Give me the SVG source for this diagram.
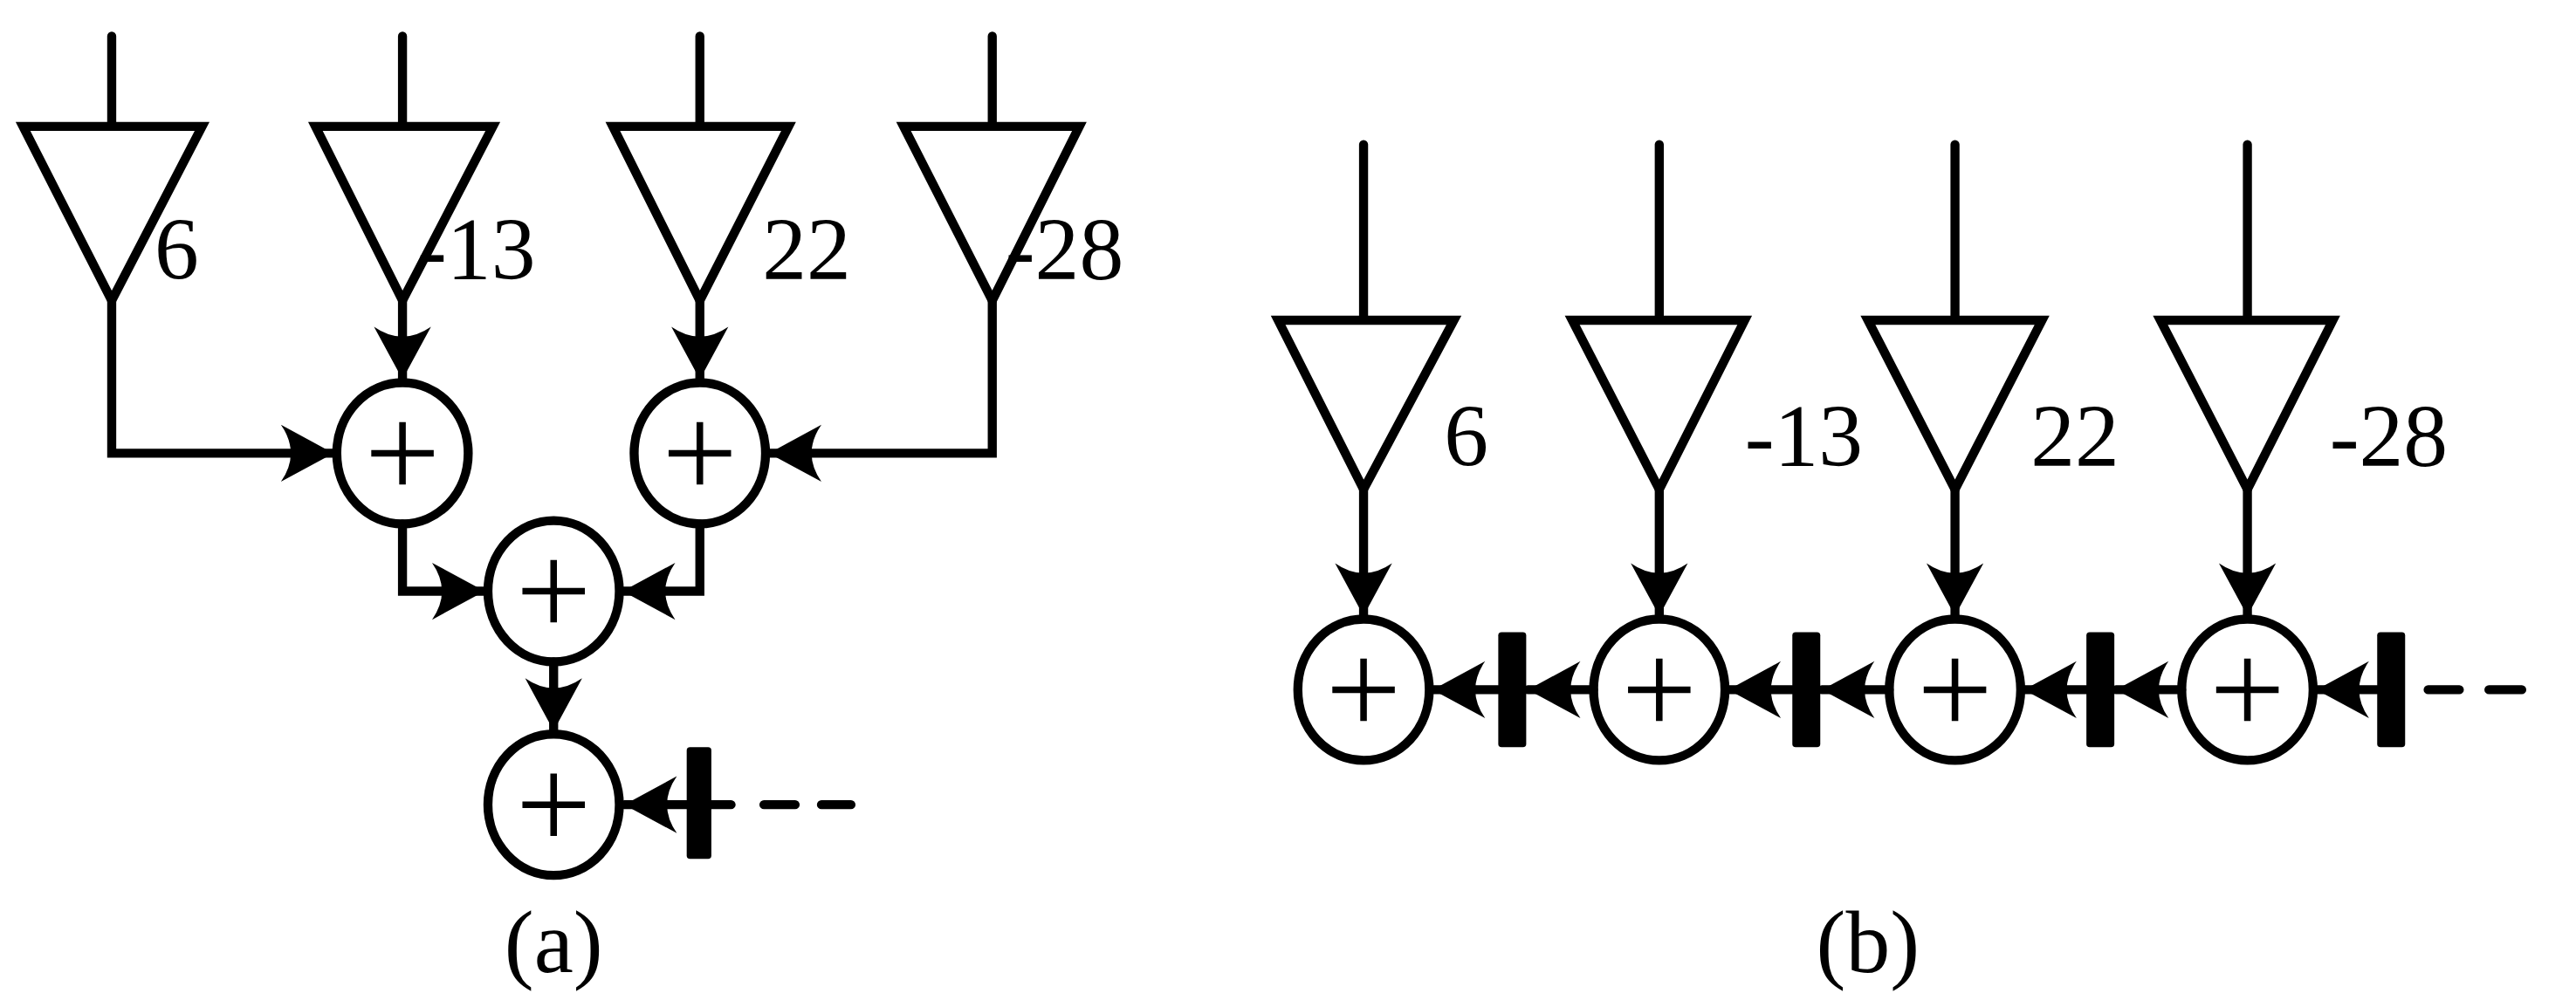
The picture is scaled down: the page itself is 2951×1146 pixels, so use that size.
<svg xmlns="http://www.w3.org/2000/svg" width="2951" height="1146" viewBox="0 0 2951 1146">
<style>
.s{fill:none;stroke:#000;stroke-width:5.5;stroke-linejoin:miter;stroke-linecap:round}
.c{fill:#fff;stroke:#000;stroke-width:5.5}
.p{fill:none;stroke:#000;stroke-width:4}
.t{font-family:"Liberation Serif","Times New Roman",serif;font-size:54px;fill:#000}
.r{fill:#000}
</style>
<defs>
<marker id="ar" markerUnits="userSpaceOnUse" markerWidth="40" markerHeight="40" viewBox="-26 -15 28 30" refX="0" refY="0" orient="auto">
<path d="M0,0 L-24,-13 Q-15,0 -24,13 Z" fill="#000"/>
</marker>
</defs>
<rect width="2951" height="1146" fill="#fff"/>
<g transform="scale(1.882)">
<g id="a-tri1"><path class="s" d="M68,22V77M14,77H123L68,183Z"/><text class="t" x="94" y="170">6</text></g>
<g id="a-tri2"><path class="s" d="M245,22V77M192,77H300L245,183Z"/><text class="t" x="254" y="170">-13</text></g>
<g id="a-tri3"><path class="s" d="M426,22V77M373,77H480L426,183Z"/><text class="t" x="464" y="170">22</text></g>
<g id="a-tri4"><path class="s" d="M604,22V77M550,77H657L604,183Z"/><text class="t" x="612" y="170">-28</text></g>
<g id="a-add1"><ellipse class="c" cx="245" cy="276" rx="40" ry="43"/><path class="p" d="M245,257V295M226,276H264"/></g>
<g id="a-add2"><ellipse class="c" cx="426" cy="276" rx="40" ry="43"/><path class="p" d="M426,257V295M407,276H445"/></g>
<g id="a-add3"><ellipse class="c" cx="337" cy="360" rx="40" ry="43"/><path class="p" d="M337,341V379M318,360H356"/></g>
<g id="a-add4"><ellipse class="c" cx="337" cy="490" rx="40" ry="43"/><path class="p" d="M337,471V509M318,490H356"/></g>
<g id="a-reg"><rect class="r" x="418" y="455" width="15" height="68" rx="2"/></g>
<text class="t" x="337" y="592" text-anchor="middle">(a)</text>

<g id="b-tri1"><path class="s" d="M830,88V195M778,195H885L830,298Z"/><text class="t" x="879" y="284">6</text></g>
<g id="b-tri2"><path class="s" d="M1010,88V195M957,195H1062L1010,298Z"/><text class="t" x="1062" y="284">-13</text></g>
<g id="b-tri3"><path class="s" d="M1190,88V195M1137,195H1243L1190,298Z"/><text class="t" x="1236" y="284">22</text></g>
<g id="b-tri4"><path class="s" d="M1368,88V195M1315,195H1420L1368,298Z"/><text class="t" x="1418" y="284">-28</text></g>
<g id="b-add1"><ellipse class="c" cx="830" cy="420" rx="40" ry="43"/><path class="p" d="M830,401V439M811,420H849"/></g>
<g id="b-add2"><ellipse class="c" cx="1010" cy="420" rx="40" ry="43"/><path class="p" d="M1010,401V439M991,420H1029"/></g>
<g id="b-add3"><ellipse class="c" cx="1190" cy="420" rx="40" ry="43"/><path class="p" d="M1190,401V439M1171,420H1209"/></g>
<g id="b-add4"><ellipse class="c" cx="1368" cy="420" rx="40" ry="43"/><path class="p" d="M1368,401V439M1349,420H1387"/></g>
<g id="b-reg1"><rect class="r" x="912" y="385" width="17" height="70" rx="2"/></g>
<g id="b-reg2"><rect class="r" x="1091" y="385" width="17" height="70" rx="2"/></g>
<g id="b-reg3"><rect class="r" x="1270" y="385" width="17" height="70" rx="2"/></g>
<g id="b-reg4"><rect class="r" x="1447" y="385" width="17" height="70" rx="2"/></g>
<text class="t" x="1137" y="592" text-anchor="middle">(b)</text>

<g id="connectors">
<path class="s" d="M68,183V276H203" marker-end="url(#ar)"/>
<path class="s" d="M245,183V231" marker-end="url(#ar)"/>
<path class="s" d="M426,183V231" marker-end="url(#ar)"/>
<path class="s" d="M604,183V276H468" marker-end="url(#ar)"/>
<path class="s" d="M245,319V360H295" marker-end="url(#ar)"/>
<path class="s" d="M426,319V360H379" marker-end="url(#ar)"/>
<path class="s" d="M337,403V445" marker-end="url(#ar)"/>
<path class="s" d="M445,490H380" marker-end="url(#ar)"/>
<path class="s" d="M465,490H484M500,490H518"/>
<path class="s" d="M830,298V375" marker-end="url(#ar)"/>
<path class="s" d="M1010,298V375" marker-end="url(#ar)"/>
<path class="s" d="M1190,298V375" marker-end="url(#ar)"/>
<path class="s" d="M1368,298V375" marker-end="url(#ar)"/>
<path class="s" d="M912,420H872" marker-end="url(#ar)"/>
<path class="s" d="M970,420H930" marker-end="url(#ar)"/>
<path class="s" d="M1091,420H1052" marker-end="url(#ar)"/>
<path class="s" d="M1150,420H1109" marker-end="url(#ar)"/>
<path class="s" d="M1270,420H1232" marker-end="url(#ar)"/>
<path class="s" d="M1328,420H1288" marker-end="url(#ar)"/>
<path class="s" d="M1447,420H1410" marker-end="url(#ar)"/>
<path class="s" d="M1478,420H1497M1515,420H1535"/>
</g>
</g>
</svg>
